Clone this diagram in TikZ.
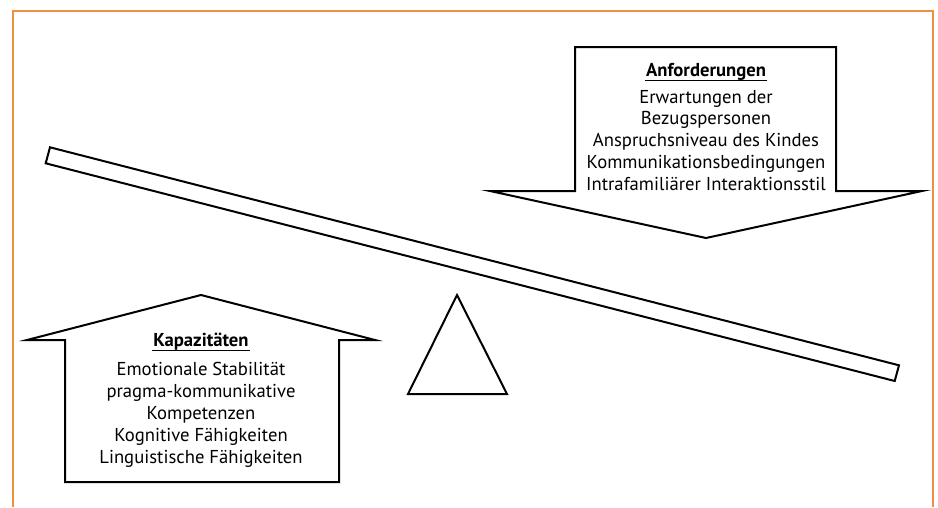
\documentclass[tikz,border=0pt]{standalone}
\usepackage{fontspec}
\setmainfont{PT Sans}
\usetikzlibrary{calc}
\definecolor{rahmenorange}{RGB}{238,146,62}

\begin{document}
\begin{tikzpicture}[x=0.75pt,y=-0.75pt,line width=1.5pt,line join=miter,
    liste/.style={align=center,inner sep=0pt,font=\fontsize{14}{16.4}\selectfont},
    titel/.style={inner sep=0pt,font=\fontsize{14}{16.4}\selectfont\bfseries}]
        \newcommand{\figwaagebalkenlx}{50}
        \newcommand{\figwaagebalkenly}{147.3}
        \newcommand{\figwaagebalkenrx}{899}
        \newcommand{\figwaagebalkenry}{365.3}
        \newcommand{\figwaagekapx}{201}
        \newcommand{\figwaageanfx}{706}
        \useasboundingbox (0,0) rectangle (938,507);
        \draw[rahmenorange] (13,507) -- (13,11) -- (933,11) -- (933,507);
        % Balken und Dreieck
        \draw (\figwaagebalkenlx,\figwaagebalkenly) -- (\figwaagebalkenrx,\figwaagebalkenry) -- (\figwaagebalkenrx-4.3,\figwaagebalkenry+15.7) -- (\figwaagebalkenlx-4.3,\figwaagebalkenly+16) -- cycle;
        \draw (457,295) -- (507,394) -- (408,394) -- cycle;
        % Pfeil nach oben
        \draw (65,482) -- (65,340) -- (27,340) -- (\figwaagekapx,295) -- (375,340) -- (339,340) -- (339,482) -- cycle;
        \node[titel] (kaptitel) at (\figwaagekapx,342) {Kapazitäten};
        \draw[line width=0.6pt] ([yshift=-3pt]kaptitel.base west) -- ([yshift=-3pt]kaptitel.base east);
        \node[liste,anchor=north] (kapliste) at (\figwaagekapx,361.5) {Emotionale Stabilität\\pragma-kommunikative\\Kompetenzen\\Kognitive Fähigkeiten\\Linguistische Fähigkeiten};
        % Pfeil nach unten
        \draw (575,47) -- (836,47) -- (836,191) -- (922,191) -- (\figwaageanfx,238) -- (490,191) -- (575,191) -- cycle;
        \node[titel] (anftitel) at (\figwaageanfx,72) {Anforderungen};
        \draw[line width=0.6pt] ([yshift=-3pt]anftitel.base west) -- ([yshift=-3pt]anftitel.base east);
        \node[liste,anchor=north] (anfliste) at (\figwaageanfx,89) {Erwartungen der\\Bezugspersonen\\Anspruchsniveau des Kindes\\Kommunikationsbedingungen\\Intrafamiliärer Interaktionsstil};
    \end{tikzpicture}
\end{document}
